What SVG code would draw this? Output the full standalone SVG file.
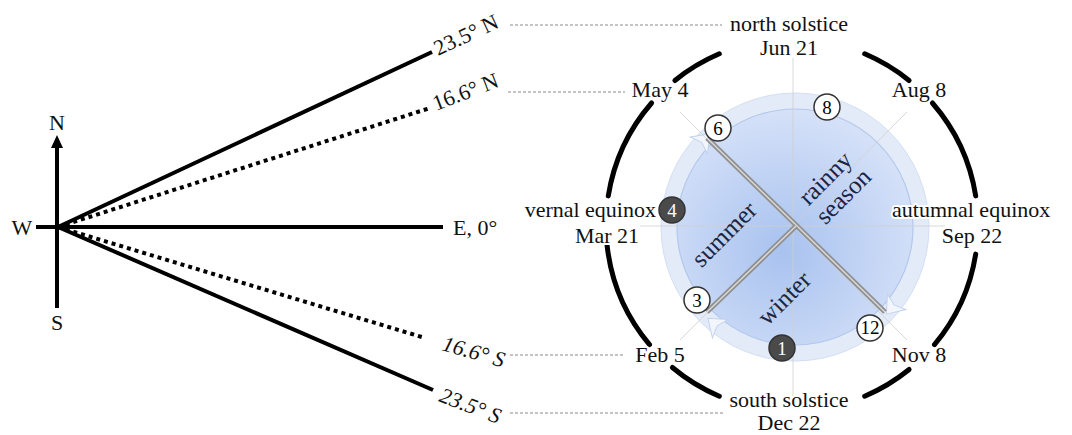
<svg xmlns="http://www.w3.org/2000/svg" width="1072" height="435" viewBox="0 0 1072 435">
<style>
.lbl{font-family:"Liberation Serif","Times New Roman",serif;font-size:22px;fill:#111;}
.glow{paint-order:stroke;stroke:#fff;stroke-width:4px;stroke-linejoin:round;}
.in{font-family:"Liberation Serif","Times New Roman",serif;font-size:25px;fill:#1c2540;}
.blk{stroke:#000;stroke-width:4;fill:none;}
.dot{stroke:#000;stroke-width:4;fill:none;stroke-dasharray:4 4;}
.dash{stroke:#8a8a8a;stroke-width:1;stroke-dasharray:3 2;fill:none;}
.arc{stroke:#000;stroke-width:5;fill:none;stroke-linecap:round;}
.thin{stroke:#cfcfcf;stroke-width:1;fill:none;}
.nw{fill:#fff;stroke:#333;stroke-width:1.5;}
.nd{fill:#4a4a4a;stroke:#333;stroke-width:1.5;}
.num{font-family:"Liberation Serif","Times New Roman",serif;font-size:19px;text-anchor:middle;}
.ah{fill:#f2f6fc;stroke:#c3d3ee;stroke-width:1;}
</style>
<defs>
<radialGradient id="disk" cx="45%" cy="60%" r="60%">
<stop offset="0" stop-color="#a8c2ef"/>
<stop offset="1" stop-color="#d5e1f8"/>
</radialGradient>
</defs>

<g id="compass">
<line class="blk" x1="57" y1="308" x2="57" y2="146"/>
<polygon points="57,135 51,148 63,148" fill="#000"/>
<line class="blk" x1="36" y1="227" x2="443" y2="227"/>
<text class="lbl" x="57" y="130" text-anchor="middle">N</text>
<text class="lbl" x="57" y="330" text-anchor="middle">S</text>
<text class="lbl" x="22" y="235" text-anchor="middle">W</text>
<text class="lbl" x="453" y="235">E, 0°</text>
</g>

<g id="connectors">
<line class="blk" x1="58" y1="227" x2="432" y2="52"/>
<line class="dot" x1="58" y1="227" x2="430" y2="108"/>
<line class="dot" x1="58" y1="227" x2="425" y2="338"/>
<line class="blk" x1="58" y1="227" x2="433" y2="390"/>
<line class="dash" x1="510" y1="25" x2="722" y2="25"/>
<line class="dash" x1="508" y1="92" x2="625" y2="92"/>
<line class="dash" x1="510" y1="355" x2="625" y2="355"/>
<line class="dash" x1="510" y1="413" x2="725" y2="413"/>
</g>

<g id="angle-labels">
<text class="lbl" transform="translate(438,56) rotate(-25)">23.5° N</text>
<text class="lbl" transform="translate(436,111) rotate(-21)">16.6° N</text>
<text class="lbl" font-style="italic" transform="translate(441,350) rotate(16)">16.6° S</text>
<text class="lbl" font-style="italic" transform="translate(438,401) rotate(21)">23.5° S</text>
</g>

<g id="outer-ring">
<path class="arc" d="M719.3,53.8 A186,186 0 0 0 674.9,80.5"/>
<path class="arc" d="M651.6,103 A186,186 0 0 0 608.3,195.9"/>
<path class="arc" d="M607,244.4 A186,186 0 0 0 649.5,344.6"/>
<path class="arc" d="M672.4,367.5 A186,186 0 0 0 719.3,396.2"/>
<path class="arc" d="M864.7,396.2 A186,186 0 0 0 909.1,369.5"/>
<path class="arc" d="M934.5,344.6 A186,186 0 0 0 975.7,254.1"/>
<path class="arc" d="M975.7,195.9 A186,186 0 0 0 932.4,103"/>
<path class="arc" d="M909.1,80.5 A186,186 0 0 0 864.7,53.8"/>
</g>

<g id="season-disk">
<circle cx="795" cy="227" r="134" fill="#e3ebf8" stroke="#d3dff2" stroke-width="1"/>
<circle cx="795" cy="227" r="118" fill="url(#disk)" stroke="#b3c8ec" stroke-width="1.2"/>
<path class="ah" d="M8,0 L-8,-12 L-4,0 L-8,12 Z" transform="translate(704.4,139.5) rotate(-46)"/>
<path class="ah" d="M8,0 L-8,-12 L-4,0 L-8,12 Z" transform="translate(891.5,308) rotate(130)"/>
<path class="ah" d="M8,0 L-8,-12 L-4,0 L-8,12 Z" transform="translate(714,323.5) rotate(-140)"/>
</g>

<g id="guides">
<line class="thin" x1="793" y1="58" x2="793" y2="398" opacity="0.8"/>
<line class="thin" x1="640" y1="226" x2="945" y2="226" opacity="0.8"/>
<line class="thin" x1="680" y1="112" x2="907" y2="340" opacity="0.8"/>
<line class="thin" x1="907" y1="112" x2="680" y2="340" opacity="0.8"/>
</g>

<g id="bars">
<line x1="707" y1="138" x2="885" y2="312" stroke="#8f8f8f" stroke-width="5"/>
<line x1="707" y1="138" x2="885" y2="312" stroke="#d9d9d9" stroke-width="1.5"/>
<line x1="796" y1="226" x2="707" y2="312" stroke="#8f8f8f" stroke-width="5"/>
<line x1="796" y1="226" x2="707" y2="312" stroke="#d9d9d9" stroke-width="1.5"/>
</g>

<g id="season-labels">
<text class="in" text-anchor="middle" transform="translate(730,240) rotate(-45)">summer</text>
<text class="in" text-anchor="middle" transform="translate(831,184) rotate(-45)">rainny</text>
<text class="in" text-anchor="middle" transform="translate(849,202) rotate(-45)">season</text>
<text class="in" text-anchor="middle" transform="translate(790,304) rotate(-45)">winter</text>
</g>

<g id="months">
<g id="m6"><circle class="nw" cx="718" cy="128" r="13"/><text class="num" x="718" y="135">6</text></g>
<g id="m8"><circle class="nw" cx="827" cy="107" r="13"/><text class="num" x="827" y="114">8</text></g>
<g id="m4"><circle class="nd" cx="672" cy="210" r="13"/><text class="num" x="672" y="217" fill="#fff">4</text></g>
<g id="m3"><circle class="nw" cx="697" cy="300" r="13"/><text class="num" x="697" y="307">3</text></g>
<g id="m1"><circle class="nd" cx="782" cy="348" r="13"/><text class="num" x="782" y="355" fill="#fff">1</text></g>
<g id="m12"><circle class="nw" cx="870" cy="328" r="13"/><text class="num" x="870" y="334" font-size="16">12</text></g>
</g>

<g id="date-labels">
<text class="lbl glow" x="789" y="31" text-anchor="middle">north solstice</text>
<text class="lbl glow" x="789" y="55" text-anchor="middle">Jun 21</text>
<text class="lbl glow" x="660" y="97" text-anchor="middle">May 4</text>
<text class="lbl glow" x="919" y="97" text-anchor="middle">Aug 8</text>
<text class="lbl glow" x="656" y="217" text-anchor="end">vernal equinox</text>
<text class="lbl glow" x="607" y="243" text-anchor="middle">Mar 21</text>
<text class="lbl glow" x="892" y="217">autumnal equinox</text>
<text class="lbl glow" x="972" y="243" text-anchor="middle">Sep 22</text>
<text class="lbl glow" x="660" y="362" text-anchor="middle">Feb 5</text>
<text class="lbl glow" x="919" y="362" text-anchor="middle">Nov 8</text>
<text class="lbl glow" x="789" y="407" text-anchor="middle">south solstice</text>
<text class="lbl glow" x="789" y="430" text-anchor="middle">Dec 22</text>
</g>
</svg>
